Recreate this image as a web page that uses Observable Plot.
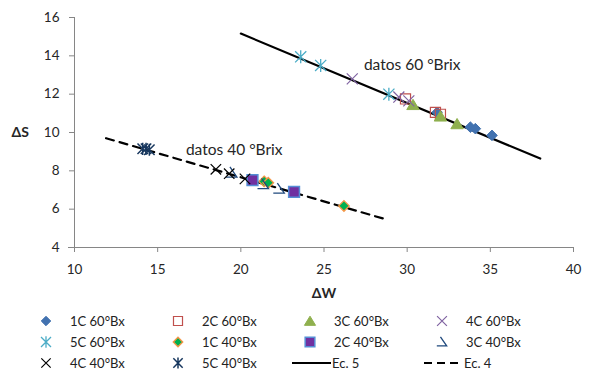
<!DOCTYPE html>
<html><head><meta charset="utf-8">
<script src="https://cdn.jsdelivr.net/npm/d3@7"></script>
<script src="https://cdn.jsdelivr.net/npm/@observablehq/plot@0.6"></script>
<style>
body{margin:0;background:#fff;font-family:Lato,"Open Sans",sans-serif;color:#222;}
#chart svg{display:block;}
#legend{display:grid;grid-template-columns:repeat(4,132px);padding-left:36px;padding-top:4px;font-size:13px;}
.item{display:flex;align-items:center;height:21px;white-space:nowrap;}
.item svg{flex:none;}
</style></head><body>
<div id="chart"></div>
<div id="legend"></div>
<script>
// ---- data ----
const xTicks = [10, 15, 20, 25, 30, 35, 40];
const yTicks = [4, 6, 8, 10, 12, 14, 16];
const seriesNames = ["1C 60°Bx","2C 60°Bx","3C 60°Bx","4C 60°Bx","5C 60°Bx","1C 40°Bx","2C 40°Bx","3C 40°Bx","4C 40°Bx","5C 40°Bx"];
const dW_1C60 = [31.8, 33.8, 34.1, 35.1];      const dS_1C60 = [11.05, 10.28, 10.2, 9.85];
const dW_2C60 = [29.9, 31.7, 32.0];            const dS_2C60 = [11.75, 11.05, 10.95];
const dW_3C60 = [30.35, 32.0, 33.0];           const dS_3C60 = [11.45, 10.85, 10.45];
const dW_4C60 = [26.7, 29.5, 30.1];            const dS_4C60 = [12.8, 11.85, 11.65];
const dW_5C60 = [23.6, 24.8, 28.9];            const dS_5C60 = [13.95, 13.5, 12.0];
const dW_1C40 = [21.4, 21.65, 26.2];           const dS_1C40 = [7.45, 7.38, 6.17];
const dW_2C40 = [20.7, 23.2];                  const dS_2C40 = [7.52, 6.9];
const dW_3C40 = [19.45, 21.35, 22.3];          const dS_3C40 = [7.9, 7.3, 7.06];
const dW_4C40 = [18.5, 19.3, 20.25];           const dS_4C40 = [8.08, 7.85, 7.58];
const dW_5C40 = [14.1, 14.3, 14.5];            const dS_5C40 = [9.15, 9.15, 9.1];
const ec5_dW = [20, 38];   const ec5_dS = [15.16, 8.64];
const ec4_dW = [11.9, 28.6]; const ec4_dS = [9.7, 5.5];
const noteText = ["datos 60 °Brix", "datos 40 °Brix"];
const noteW = [27.4, 16.7];
const noteS = [13.5, 9.1];

// ---- symbols ----
function sym(fn){return {draw(c,size){fn(c,Math.sqrt(size/Math.PI));}};}
const diamond = sym((c,r)=>{c.moveTo(0,-r);c.lineTo(r,0);c.lineTo(0,r);c.lineTo(-r,0);c.closePath();});
const square = sym((c,r)=>{const h=r*0.9;c.moveTo(-h,-h);c.lineTo(h,-h);c.lineTo(h,h);c.lineTo(-h,h);c.closePath();});
const triangle = sym((c,r)=>{c.moveTo(0,-r);c.lineTo(r*1.15,r*0.9);c.lineTo(-r*1.15,r*0.9);c.closePath();});
const times = sym((c,r)=>{const h=r*0.95;c.moveTo(-h,-h);c.lineTo(h,h);c.moveTo(h,-h);c.lineTo(-h,h);});
const asterisk = sym((c,r)=>{const h=r*0.9;c.moveTo(0,-r*1.05);c.lineTo(0,r*1.05);c.moveTo(-h,-h);c.lineTo(h,h);c.moveTo(h,-h);c.lineTo(-h,h);});
const angle = sym((c,r)=>{c.moveTo(-r*0.3,-r);c.lineTo(r*0.9,r*0.75);c.lineTo(-r,r*0.75);});

const styles = [
  {symbol:diamond, fill:"#4272B0", stroke:"#4272B0", sw:1, r:5.3},
  {symbol:square, fill:"none", stroke:"#C0504D", sw:1.2, r:5.6},
  {symbol:triangle, fill:"#8FB04E", stroke:"#8FB04E", sw:1, r:5.4},
  {symbol:times, fill:"none", stroke:"#8064A2", sw:1.2, r:5.8},
  {symbol:asterisk, fill:"none", stroke:"#4BACC6", sw:1.3, r:6.2},
  {symbol:diamond, fill:"#00B050", stroke:"#F79646", sw:1.3, r:5.3},
  {symbol:square, fill:"#7030A0", stroke:"#558ED5", sw:1.5, r:6},
  {symbol:angle, fill:"none", stroke:"#1F497D", sw:1.3, r:5.8},
  {symbol:times, fill:"none", stroke:"#000000", sw:1.2, r:5.5},
  {symbol:asterisk, fill:"none", stroke:"#17375E", sw:1.5, r:5.8}
];

const seriesW = [dW_1C60,dW_2C60,dW_3C60,dW_4C60,dW_5C60,dW_1C40,dW_2C40,dW_3C40,dW_4C40,dW_5C40];
const seriesS = [dS_1C60,dS_2C60,dS_3C60,dS_4C60,dS_5C60,dS_1C40,dS_2C40,dS_3C40,dS_4C40,dS_5C40];
const rows = seriesNames.map((n,i)=>seriesW[i].map((w,j)=>({serie:n, dW:w, dS:seriesS[i][j]})));
const ec5 = ec5_dW.map((w,i)=>({dW:w, dS:ec5_dS[i]}));
const ec4 = ec4_dW.map((w,i)=>({dW:w, dS:ec4_dS[i]}));
const notes = noteText.map((t,i)=>({t, dW:noteW[i], dS:noteS[i]}));

const font = "Lato, 'Open Sans', sans-serif";
const chart = Plot.plot({
  width:595, height:306,
  marginLeft:74, marginRight:22, marginTop:17, marginBottom:59,
  style:{fontFamily:font, background:"#fff"},
  x:{domain:[10,40]},
  y:{domain:[4,16]},
  marks:[
    Plot.ruleX([10],{stroke:"#868686"}),
    Plot.ruleY([4],{stroke:"#868686", insetLeft:-6}),
    Plot.axisX({ticks:xTicks, tickSize:5, tickPadding:12, stroke:"#868686", fill:"#262626", fontSize:13.5, label:null, tickFormat:d=>d}),
    Plot.axisY({ticks:yTicks, tickSize:5, tickPadding:10, stroke:"#868686", fill:"#262626", fontSize:13.5, label:null, tickFormat:d=>d}),
    Plot.text(["ΔW"],{frameAnchor:"bottom", dy:50, fontWeight:"bold", fontSize:14, fill:"#262626"}),
    Plot.text(["ΔS"],{frameAnchor:"left", dx:-63, fontWeight:"bold", fontSize:14, fill:"#262626"}),
    Plot.line(ec5,{x:"dW", y:"dS", stroke:"#000", strokeWidth:2.2}),
    Plot.line(ec4,{x:"dW", y:"dS", stroke:"#000", strokeWidth:2.2, strokeDasharray:"8,6"}),
    ...rows.map((d,i)=>Plot.dot(d,{x:"dW", y:"dS", symbol:styles[i].symbol, r:styles[i].r, fill:styles[i].fill, stroke:styles[i].stroke, strokeWidth:styles[i].sw})),
    Plot.text(notes,{x:"dW", y:"dS", text:"t", textAnchor:"start", fontSize:15.5, fill:"#262626"})
  ]
});
document.getElementById("chart").appendChild(chart);

// ---- legend ----
const legend = document.getElementById("legend");
const ns = "http://www.w3.org/2000/svg";
function markerSvg(st){
  const s = document.createElementNS(ns,"svg");
  s.setAttribute("width",20); s.setAttribute("height",16);
  const p = document.createElementNS(ns,"path");
  p.setAttribute("d", d3.symbol(st.symbol, Math.PI*st.r*st.r*0.8)());
  p.setAttribute("transform","translate(10,8)");
  p.setAttribute("fill", st.fill); p.setAttribute("stroke", st.stroke); p.setAttribute("stroke-width", st.sw);
  s.appendChild(p); return s;
}
function lineSvg(dash){
  const s = document.createElementNS(ns,"svg");
  s.setAttribute("width",39); s.setAttribute("height",16);
  const l = document.createElementNS(ns,"line");
  l.setAttribute("x1",0); l.setAttribute("x2",39); l.setAttribute("y1",8); l.setAttribute("y2",8);
  l.setAttribute("stroke","#000"); l.setAttribute("stroke-width",2.2);
  if (dash) l.setAttribute("stroke-dasharray","8,5");
  s.appendChild(l); return s;
}
seriesNames.forEach((n,i)=>{
  const it = document.createElement("div"); it.className="item";
  it.appendChild(markerSvg(styles[i]));
  const sp = document.createElement("span"); sp.textContent=n; sp.style.marginLeft="14px";
  it.appendChild(sp); legend.appendChild(it);
});
[["Ec. 5",false],["Ec. 4",true]].forEach(([n,dash])=>{
  const it = document.createElement("div"); it.className="item";
  const sv = lineSvg(dash); sv.style.marginLeft="-8px"; it.appendChild(sv);
  const sp = document.createElement("span"); sp.textContent=n; sp.style.marginLeft="1px";
  it.appendChild(sp); legend.appendChild(it);
});
</script>
</body></html>
